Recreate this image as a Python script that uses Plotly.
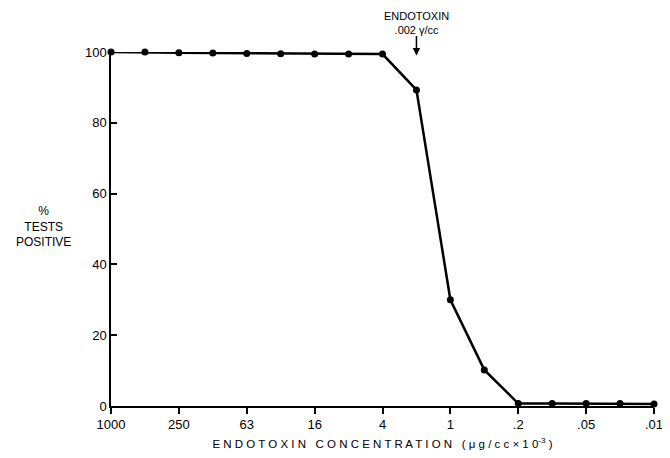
import plotly.graph_objects as go

# Data
concentrations = ["1000", "500", "250", "125", "63", "32", "16", "8", "4", "2",
                  "1", ".5", ".2", ".1", ".05", ".025", ".01"]
pct_positive = [100, 100, 99.8, 99.7, 99.6, 99.5, 99.4, 99.4, 99.4, 89.3,
                30, 10.2, 0.7, 0.7, 0.7, 0.7, 0.6]
x_tick_vals = ["1000", "250", "63", "16", "4", "1", ".2", ".05", ".01"]
x_tick_text = ["1000", "250", "63", "16", "4", "1", ".2", ".05", ".01"]
y_tick_vals = [0, 20, 40, 60, 80, 100]
arrow_at = "2"

FONT = "Liberation Sans, Arial, sans-serif"

fig = go.Figure()
fig.add_trace(go.Scatter(
    x=concentrations, y=pct_positive, mode="lines+markers",
    line=dict(color="black", width=2.5),
    marker=dict(color="black", size=7),
    cliponaxis=False, showlegend=False,
))

fig.update_layout(
    width=654, height=442,
    margin=dict(l=103, r=8, t=44, b=44),
    paper_bgcolor="white", plot_bgcolor="white",
    font=dict(family=FONT, color="black", size=13),
    xaxis=dict(
        type="category", categoryorder="array", categoryarray=concentrations,
        range=[0, 16], tickmode="array", tickvals=x_tick_vals, ticktext=x_tick_text,
        automargin=False,
        ticks="outside", ticklen=6, tickwidth=1.5, tickcolor="black",
        showline=True, linecolor="black", linewidth=1.5, showgrid=False, zeroline=False,
        tickfont=dict(size=13),
        title=dict(text="E N D O T O X I N   C O N C E N T R A T I O N   ( μ g / c c × 1 0<sup>-3</sup> )",
                   font=dict(size=11.5), standoff=12),
    ),
    yaxis=dict(
        range=[0, 100], tickmode="array", tickvals=y_tick_vals,
        automargin=False,
        ticks="inside", ticklen=6, tickwidth=1.5, tickcolor="black",
        showline=True, linecolor="black", linewidth=1.5, showgrid=False, zeroline=False,
        tickfont=dict(size=13),
    ),
    annotations=[
        dict(text="%<br>TESTS<br>POSITIVE", xref="paper", yref="paper",
             x=-0.124, y=0.506, xanchor="center", yanchor="middle", showarrow=False,
             font=dict(size=12), align="center"),
        dict(text="ENDOTOXIN<br>.002 γ/cc", x=concentrations.index(arrow_at), y=99,
             xref="x", yref="y", borderpad=0,
             showarrow=True, arrowhead=2, arrowsize=1, arrowwidth=1.5, arrowcolor="black",
             ax=0, ay=-33, font=dict(size=11), align="center"),
    ],
)

fig.write_html("out.html")
